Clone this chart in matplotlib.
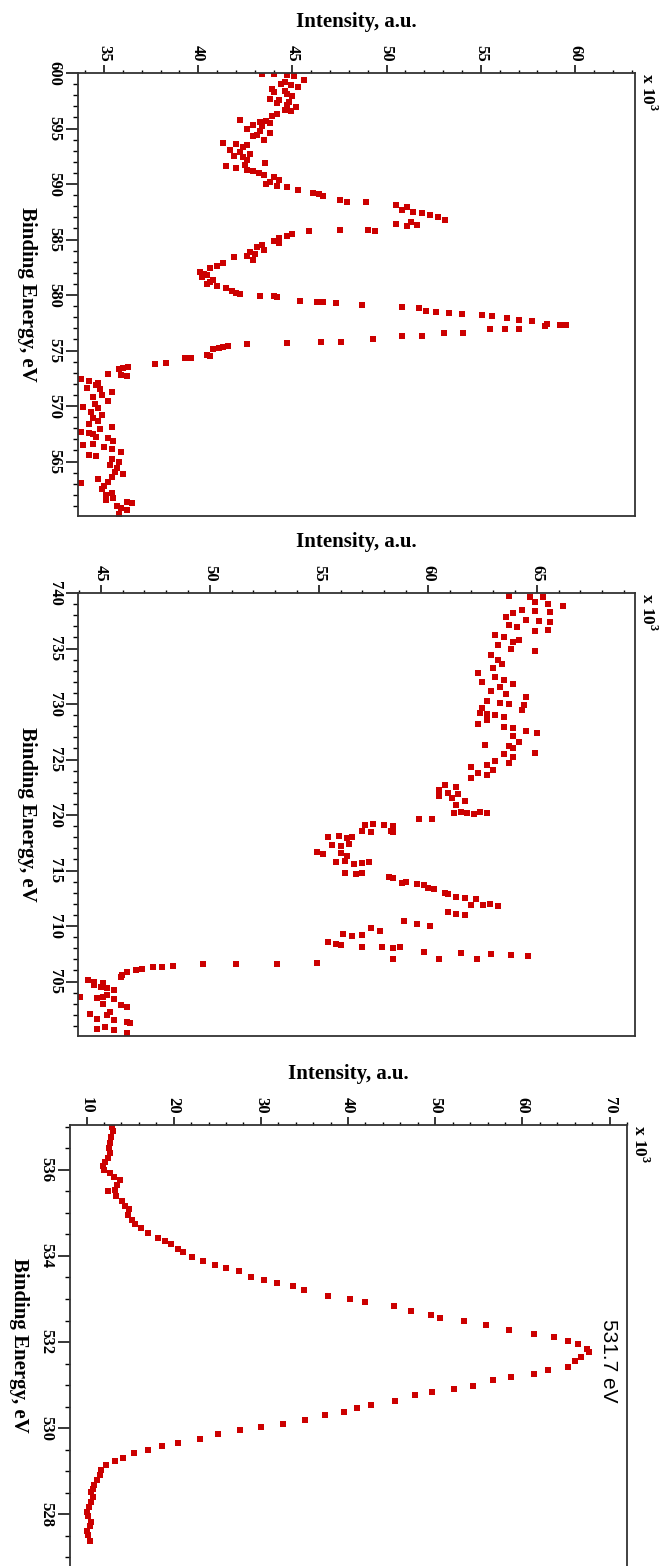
import matplotlib.pyplot as plt
from matplotlib.ticker import MultipleLocator

plt.rcParams['font.family'] = ['Liberation Serif', 'DejaVu Serif']
plt.rcParams['font.weight'] = 'bold'
plt.rcParams['font.size'] = 12
plt.rcParams['mathtext.fontset'] = 'custom'
plt.rcParams['mathtext.rm'] = 'Liberation Serif:bold'

RED = '#cc0000'

# (binding energy eV, intensity x10^3)
cr2p = [
    (599.9, 43.4), (599.9, 44.0), (599.8, 44.7), (599.7, 45.1), (599.4, 45.6),
    (599.2, 44.6), (599.0, 44.4), (598.9, 44.9), (598.7, 45.3), (598.6, 43.9),
    (598.4, 44.6), (598.3, 44.0), (598.1, 44.7), (597.9, 45.0), (597.7, 43.8),
    (597.6, 44.3), (597.4, 44.8), (597.3, 44.2), (597.1, 44.7), (596.9, 45.2),
    (596.7, 44.6), (596.6, 44.9), (596.3, 44.2), (596.1, 43.9), (595.8, 42.2),
    (595.7, 43.6), (595.6, 43.3), (595.5, 43.8), (595.3, 42.9), (595.2, 43.4),
    (595.0, 42.6), (594.8, 43.3), (594.6, 43.8), (594.4, 43.1), (594.3, 42.9),
    (594.0, 43.5), (593.7, 41.3), (593.6, 42.0), (593.5, 42.6), (593.3, 42.4),
    (593.1, 41.7), (592.9, 42.2), (592.7, 42.75), (592.5, 41.9), (592.4, 42.4),
    (592.2, 42.6), (591.9, 43.55), (591.7, 42.5), (591.6, 41.5), (591.4, 42.0),
    (591.3, 42.6), (591.2, 42.9), (591.0, 43.2), (590.8, 43.5), (590.6, 44.0),
    (590.4, 44.3), (590.2, 43.8), (590.0, 43.6), (589.8, 44.2), (589.7, 44.7),
    (589.5, 45.3), (589.2, 46.1), (589.1, 46.4), (588.9, 46.6), (588.6, 47.5),
    (588.4, 47.9), (588.4, 48.9), (588.1, 50.5), (587.9, 51.1), (587.7, 50.8),
    (587.5, 51.4), (587.4, 51.9), (587.2, 52.3), (587.0, 52.7), (586.8, 53.1),
    (586.6, 51.3), (586.4, 50.5), (586.3, 51.6), (586.2, 51.1), (585.9, 49.0),
    (585.8, 49.4), (585.85, 47.5), (585.8, 45.9), (585.5, 45.0), (585.3, 44.7),
    (585.1, 44.3), (584.9, 44.0), (584.7, 44.3), (584.5, 43.4), (584.3, 43.1),
    (584.1, 43.5), (583.9, 42.75), (583.7, 43.0), (583.5, 42.6), (583.4, 41.9),
    (583.2, 42.9), (582.9, 41.3), (582.6, 41.0), (582.4, 40.6), (582.1, 40.1),
    (581.9, 40.3), (581.8, 40.45), (581.6, 40.2), (581.4, 40.8), (581.2, 40.6),
    (581.0, 40.45), (580.8, 41.0), (580.6, 41.5), (580.4, 41.8), (580.2, 42.0),
    (580.1, 42.2), (579.95, 43.3), (579.9, 44.0), (579.85, 44.2), (579.5, 45.4),
    (579.4, 46.3), (579.35, 46.6), (579.3, 47.3), (579.1, 48.7), (578.9, 50.8),
    (578.8, 51.7), (578.6, 52.1), (578.5, 52.6), (578.4, 53.3), (578.3, 54.0),
    (578.2, 55.05), (578.1, 55.6), (577.9, 56.4), (577.75, 57.0), (577.7, 57.7),
    (577.35, 58.5), (577.3, 59.2), (577.3, 59.5), (577.2, 58.4), (576.9, 57.0),
    (576.9, 56.3), (576.9, 55.5), (576.6, 54.05), (576.6, 53.05), (576.3, 51.9),
    (576.3, 50.8), (576.0, 49.3), (575.8, 47.6), (575.8, 46.5), (575.7, 44.7),
    (575.6, 42.6), (575.4, 41.6), (575.3, 41.3), (575.2, 41.1), (575.1, 40.8),
    (574.6, 40.45), (574.5, 40.6), (574.3, 39.6), (574.3, 39.3), (573.9, 38.3),
    (573.8, 37.7), (573.5, 36.3), (573.4, 36.0), (573.3, 35.8), (572.9, 35.2),
    (572.8, 35.9), (572.7, 36.2), (572.4, 33.8), (572.3, 34.2), (572.1, 34.7),
    (571.9, 34.6), (571.6, 34.1), (571.5, 34.8), (571.3, 35.4), (571.0, 34.9),
    (570.8, 34.4), (570.5, 35.2), (570.2, 34.5), (569.9, 33.9), (569.8, 34.7),
    (569.5, 34.3), (569.2, 34.9), (568.9, 34.4), (568.7, 34.7), (568.4, 34.2),
    (568.1, 35.4), (567.9, 34.8), (567.7, 33.8), (567.6, 34.2), (567.5, 34.4),
    (567.2, 34.6), (567.1, 35.2), (566.9, 35.5), (566.6, 34.4), (566.5, 33.9),
    (566.3, 35.0), (566.1, 35.4), (565.9, 35.9), (565.6, 34.2), (565.5, 34.6),
    (565.2, 35.4), (565.0, 35.8), (564.7, 35.3), (564.4, 35.7), (564.1, 35.6),
    (563.9, 36.0), (563.6, 35.4), (563.4, 34.7), (563.2, 35.2), (563.1, 33.8),
    (562.8, 35.0), (562.5, 34.9), (562.2, 35.4), (562.0, 35.1), (561.7, 35.5),
    (561.5, 35.1), (561.4, 36.2), (561.3, 36.5), (561.0, 35.7), (560.8, 35.9),
    (560.6, 36.2), (560.3, 35.8),
]

fe2p = [
    (739.7, 63.7), (739.6, 64.7), (739.6, 65.3), (739.2, 64.9), (739.0, 65.5),
    (738.8, 66.2), (738.5, 64.3), (738.4, 64.9), (738.3, 65.6), (738.2, 63.9),
    (737.8, 63.6), (737.6, 64.5), (737.5, 65.1), (737.4, 65.6), (737.1, 63.7),
    (736.9, 64.1), (736.7, 65.5), (736.6, 64.9), (736.2, 63.1), (736.0, 63.5),
    (735.8, 64.2), (735.6, 63.9), (735.3, 63.2), (735.0, 63.8), (734.8, 64.9),
    (734.4, 62.9), (734.0, 63.2), (733.6, 63.4), (733.2, 63.0), (732.8, 62.3),
    (732.4, 63.1), (732.2, 63.5), (732.0, 62.5), (731.8, 63.9), (731.5, 63.3),
    (731.2, 62.9), (730.9, 63.6), (730.6, 64.5), (730.3, 62.7), (730.1, 63.3),
    (730.0, 63.7), (729.9, 64.4), (729.6, 62.5), (729.5, 64.3), (729.2, 62.4),
    (729.1, 62.7), (729.0, 63.1), (728.8, 63.5), (728.6, 62.7), (728.2, 62.3),
    (727.9, 63.5), (727.8, 63.9), (727.6, 64.5), (727.4, 65.0), (727.1, 63.9),
    (726.6, 64.2), (726.3, 62.6), (726.2, 63.7), (726.0, 63.9), (725.6, 64.9),
    (725.5, 63.5), (725.2, 63.9), (724.9, 63.1), (724.7, 63.7), (724.5, 62.7),
    (724.3, 62.0), (724.1, 63.0), (723.8, 62.3), (723.6, 62.7), (723.3, 62.0),
    (722.7, 60.8), (722.5, 61.3), (722.3, 60.5), (722.0, 60.9), (721.9, 61.4),
    (721.7, 60.5), (721.5, 61.1), (721.3, 61.7), (720.9, 61.3), (720.2, 61.2),
    (720.3, 61.5), (720.2, 61.8), (720.1, 62.1), (720.3, 62.4), (720.2, 62.7),
    (719.6, 59.6), (719.6, 60.2), (719.1, 57.1), (719.2, 57.5), (719.1, 58.0),
    (719.0, 58.4), (718.6, 57.0), (718.5, 57.4), (718.6, 58.3), (718.5, 58.4),
    (718.0, 55.4), (718.1, 55.9), (717.9, 56.3), (718.0, 56.5), (717.3, 55.6),
    (717.2, 56.0), (717.4, 56.4), (716.7, 54.9), (716.5, 55.2), (716.6, 56.0),
    (716.3, 56.3), (715.8, 55.8), (715.9, 56.2), (715.6, 56.6), (715.7, 57.0),
    (715.8, 57.3), (714.8, 56.2), (714.7, 56.7), (714.8, 57.0), (714.4, 58.2),
    (714.3, 58.4), (713.9, 58.8), (714.0, 59.0), (713.8, 59.5), (713.7, 59.8),
    (713.4, 60.0), (713.3, 60.3), (713.0, 60.8), (712.9, 60.9), (712.6, 61.3),
    (712.5, 61.7), (712.4, 62.2), (711.9, 62.55), (712.0, 62.86), (711.8, 63.2),
    (711.9, 62.0), (711.3, 60.9), (711.1, 61.3), (711.0, 61.7), (710.5, 58.9),
    (710.2, 59.5), (710.0, 60.1), (709.8, 57.4), (709.6, 57.8), (709.3, 56.1),
    (709.1, 56.5), (709.2, 57.0), (708.6, 55.4), (708.4, 55.8), (708.3, 56.0),
    (708.1, 57.0), (708.1, 57.9), (708.0, 58.4), (708.1, 58.7), (707.7, 59.8),
    (707.6, 61.5), (707.5, 62.9), (707.0, 58.4), (707.0, 60.5), (707.0, 62.25),
    (707.4, 63.8), (707.3, 64.6), (706.7, 54.9), (706.6, 53.1), (706.6, 51.2),
    (706.6, 49.7), (706.4, 48.3), (706.3, 47.8), (706.3, 47.4), (706.1, 46.9),
    (706.0, 46.6), (705.9, 46.2), (705.6, 45.95), (705.4, 45.9), (705.1, 44.4),
    (705.0, 44.7), (704.9, 45.1), (704.7, 44.7), (704.5, 45.0), (704.4, 45.3),
    (704.2, 45.6), (703.8, 45.3), (703.6, 44.05), (703.5, 44.8), (703.6, 45.1),
    (703.4, 45.6), (703.0, 45.1), (702.9, 45.9), (702.7, 46.2), (702.3, 45.4),
    (702.1, 44.5), (702.0, 45.3), (701.6, 44.8), (701.5, 45.6), (701.4, 46.2),
    (701.3, 46.35), (700.9, 45.2), (700.7, 44.8), (700.6, 45.6), (700.4, 46.2),
]

o1s = [
    (537.0, 12.9), (536.89, 13.0), (536.77, 12.8), (536.62, 12.7), (536.5, 12.6),
    (536.39, 12.7), (536.27, 12.5), (536.19, 12.1), (536.08, 11.9), (536.0, 12.0),
    (535.92, 12.7), (535.83, 13.2), (535.77, 13.8), (535.65, 13.5), (535.54, 13.3),
    (535.5, 12.5), (535.4, 13.4), (535.27, 14.1), (535.17, 14.4), (535.08, 14.9),
    (534.96, 14.8), (534.84, 15.2), (534.75, 15.6), (534.65, 16.2), (534.54, 17.1),
    (534.42, 18.2), (534.34, 19.0), (534.27, 19.7), (534.17, 20.5), (534.09, 21.1),
    (533.97, 22.1), (533.88, 23.4), (533.8, 24.7), (533.73, 26.0), (533.64, 27.5),
    (533.52, 28.9), (533.44, 30.4), (533.36, 31.8), (533.29, 33.7), (533.2, 35.0),
    (533.07, 37.7), (532.99, 40.2), (532.92, 41.9), (532.84, 45.3), (532.73, 47.2),
    (532.63, 49.5), (532.56, 50.6), (532.48, 53.3), (532.4, 55.8), (532.28, 58.5),
    (532.18, 61.3), (532.11, 63.6), (532.03, 65.2), (531.95, 66.4), (531.84, 67.4),
    (531.76, 67.6), (531.65, 66.7), (531.57, 66.0), (531.41, 65.2), (531.34, 62.9),
    (531.26, 61.3), (531.18, 58.7), (531.11, 56.6), (530.99, 54.3), (530.91, 52.1),
    (530.84, 49.6), (530.76, 47.7), (530.62, 45.4), (530.54, 42.6), (530.47, 41.0),
    (530.37, 39.5), (530.3, 37.4), (530.18, 35.1), (530.1, 32.5), (530.03, 30.0),
    (529.95, 27.6), (529.87, 25.1), (529.74, 23.0), (529.66, 20.5), (529.59, 18.7),
    (529.5, 17.1), (529.43, 15.4), (529.31, 14.2), (529.23, 13.3), (529.14, 12.2),
    (529.03, 11.7), (528.91, 11.5), (528.79, 11.2), (528.69, 10.9), (528.59, 10.7),
    (528.52, 10.5), (528.41, 10.7), (528.29, 10.5), (528.18, 10.3), (528.06, 10.1),
    (527.95, 10.2), (527.83, 10.5), (527.74, 10.4), (527.61, 10.1), (527.51, 10.2),
    (527.37, 10.4),
]

W, H = 667, 1566
fig = plt.figure(figsize=(W / 100, H / 100), dpi=100)

# left, top, right, bottom in pixels
panels = [
    dict(data=cr2p, box=(78, 73, 635, 516), xlim=(33.62, 63.18), ylim=(560.1, 600.0),
         xstep=(5, 1), ystep=(5, 1), ms=4.3),
    dict(data=fe2p, box=(78, 593, 635, 1036), xlim=(43.95, 69.5), ylim=(700.1, 740.0),
         xstep=(5, 1), ystep=(5, 1), ms=4.3),
    dict(data=o1s, box=(70, 1125, 627, 1566), xlim=(8.1, 72.0), ylim=(526.8, 537.04),
         xstep=(10, 2), ystep=(2, 0.5), ms=4.3),
]

for i, p in enumerate(panels):
    l, t, r, b = p['box']
    ax = fig.add_axes([l / W, 1 - b / H, (r - l) / W, (b - t) / H])
    be = [d[0] for d in p['data']]
    inten = [d[1] for d in p['data']]
    ax.plot(inten, be, 's', ms=p['ms'], mfc=RED, mec=RED, mew=0, ls='none')
    ax.set_xlim(*p['xlim'])
    ax.set_ylim(*p['ylim'])
    ax.xaxis.set_major_locator(MultipleLocator(p['xstep'][0]))
    ax.xaxis.set_minor_locator(MultipleLocator(p['xstep'][1]))
    ax.yaxis.set_major_locator(MultipleLocator(p['ystep'][0]))
    ax.yaxis.set_minor_locator(MultipleLocator(p['ystep'][1]))
    ax.xaxis.set_major_formatter(lambda v, pos: '%d' % round(v))
    ax.yaxis.set_major_formatter(lambda v, pos: '%d' % round(v))

    ax.tick_params(axis='x', which='both', top=True, bottom=False, labeltop=True,
                   labelbottom=False, direction='out', labelrotation=-90)
    ax.tick_params(axis='x', which='major', length=6, width=1.1, pad=2)
    ax.tick_params(axis='x', which='minor', length=2.5, width=1.0)
    ax.tick_params(axis='y', which='both', left=True, right=False, direction='out',
                   labelrotation=-90)
    ax.tick_params(axis='y', which='major', length=9, width=1.1, pad=2)
    ax.tick_params(axis='y', which='minor', length=3.5, width=1.0)
    for lbl in ax.get_yticklabels():
        lbl.set_va('center')

    for s in ax.spines.values():
        s.set_color('#333333')
        s.set_linewidth(1.3)
    if i == 2:
        ax.spines['bottom'].set_visible(False)

    ax.annotate('Intensity, a.u.', xy=(0.5, 1), xycoords='axes fraction',
                xytext=(0, 37), textcoords='offset points',
                ha='center', va='center', fontsize=15, fontweight='bold')
    ax.annotate('Binding Energy, eV', xy=(0, 0.5), xycoords='axes fraction',
                xytext=(-37, 0), textcoords='offset points', rotation=-90,
                ha='center', va='center', fontsize=15, fontweight='bold')
    ax.text(1.006, 1.0, r'x 10$^3$', transform=ax.transAxes, rotation=-90,
            ha='left', va='top', fontsize=12.5, fontweight='bold')

ax.text(69.9, 531.56, '531.7 eV', rotation=-90, ha='center', va='center',
        fontsize=15, fontweight='normal', family=['Liberation Sans', 'DejaVu Sans'])

fig.savefig('out.png', dpi=100)
